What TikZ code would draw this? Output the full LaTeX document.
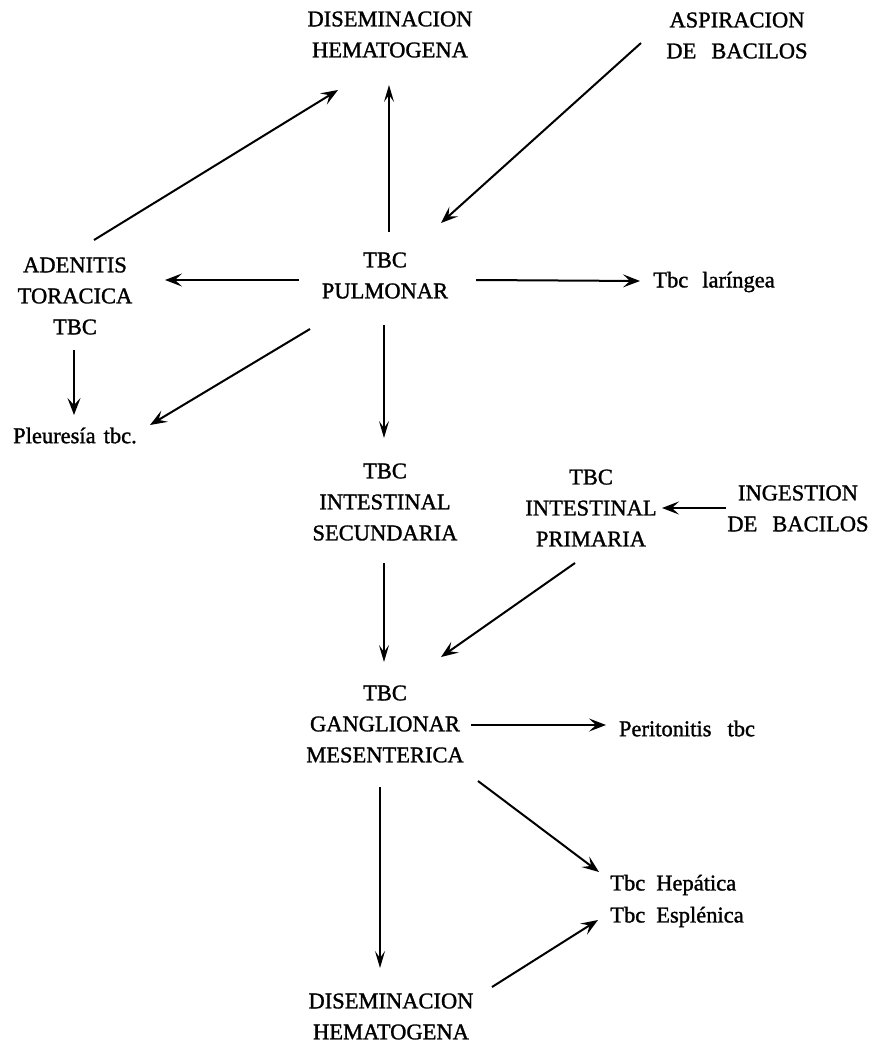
\documentclass[tikz,border=0pt]{standalone}
\usepackage{fontspec}
\setmainfont[FakeBold=1.3]{Liberation Serif}
\usetikzlibrary{arrows.meta,calc}
\begin{document}
\begin{tikzpicture}[x=1pt,y=-1pt,
  lbl/.style={inner sep=0pt, align=center, font=\fontsize{22.5}{31}\selectfont},
  lbll/.style={inner sep=0pt, align=left, font=\fontsize{22.5}{32}\selectfont},
  arr/.style={line width=2pt, -{Stealth[length=17pt,width=13pt,inset=7pt]}},
  tarr/.style={line width=1.4pt, -{Stealth[length=17pt,width=10pt,inset=7pt]}}]
\useasboundingbox[fill=white] (0,0) rectangle (871,1048);

\node[lbl] (dis1) at (390,34.5) {DISEMINACION\\HEMATOGENA};
\node[lbl] (asp) at (737,35.5) {ASPIRACION\\DE\hspace{15pt}BACILOS};
\node[lbl] (pul) at (385,275.5) {TBC\\PULMONAR};
\node[lbl] (ade) at (75,296) {ADENITIS\\TORACICA\\TBC};
\node[lbl] (lar) at (714,282) {Tbc\hspace{14pt}laríngea};
\node[lbl] (ple) at (75,435.5) {Pleuresía\hspace{8pt}tbc.};
\node[lbl] (sec) at (385,502) {TBC\\INTESTINAL\\SECUNDARIA};
\node[lbl] (pri) at (591,508) {TBC\\INTESTINAL\\PRIMARIA};
\node[lbl] (ing) at (798,508.5) {INGESTION\\DE\hspace{15pt}BACILOS};
\node[lbl] (gan) at (385,724) {TBC\\GANGLIONAR\\MESENTERICA};
\node[lbl] (per) at (687,728.5) {Peritonitis\hspace{16pt}tbc};
\node[lbll] (hep) at (677,901) {Tbc\hspace{11pt}Hepática\\Tbc\hspace{11pt}Esplénica};
\node[lbl] (dis2) at (391,1016.5) {DISEMINACION\\HEMATOGENA};

\draw[arr] ($(asp)+(-96,7.5)$) -- ($(pul)+(56,-52.5)$);
\draw[tarr] ($(pul)+(4,-43.5)$) -- ($(dis1)+(-1,50.5)$);
\draw[arr] ($(ade)+(19,-56)$) -- ($(dis1)+(-52,55.5)$);
\draw[arr] ($(pul)+(-86,4.5)$) -- ($(ade)+(90,-16)$);
\draw[arr] ($(pul)+(91,4.5)$) -- ($(lar)+(-74,-1)$);
\draw[arr] ($(ade)+(-1,54)$) -- ($(ple)+(-1,-20.5)$);
\draw[arr] ($(pul)+(-75,53.5)$) -- ($(ple)+(75,-10.5)$);
\draw[tarr] ($(pul)+(-1,49.5)$) -- ($(sec)+(-1,-64)$);
\draw[arr] ($(ing)+(-72,-0.5)$) -- ($(pri)+(71,0)$);
\draw[tarr] ($(sec)+(-1,61)$) -- ($(gan)+(-1,-62)$);
\draw[arr] ($(pri)+(-16,55)$) -- ($(gan)+(56,-67)$);
\draw[arr] ($(gan)+(86,1)$) -- ($(per)+(-81,-3.5)$);
\draw[arr] ($(gan)+(93,57)$) -- ($(hep)+(-78,-29)$);
\draw[tarr] ($(gan)+(-5,63)$) -- ($(dis2)+(-11,-48.5)$);
\draw[arr] ($(dis2)+(101,-29.5)$) -- ($(hep)+(-79,19)$);
\end{tikzpicture}
\end{document}
